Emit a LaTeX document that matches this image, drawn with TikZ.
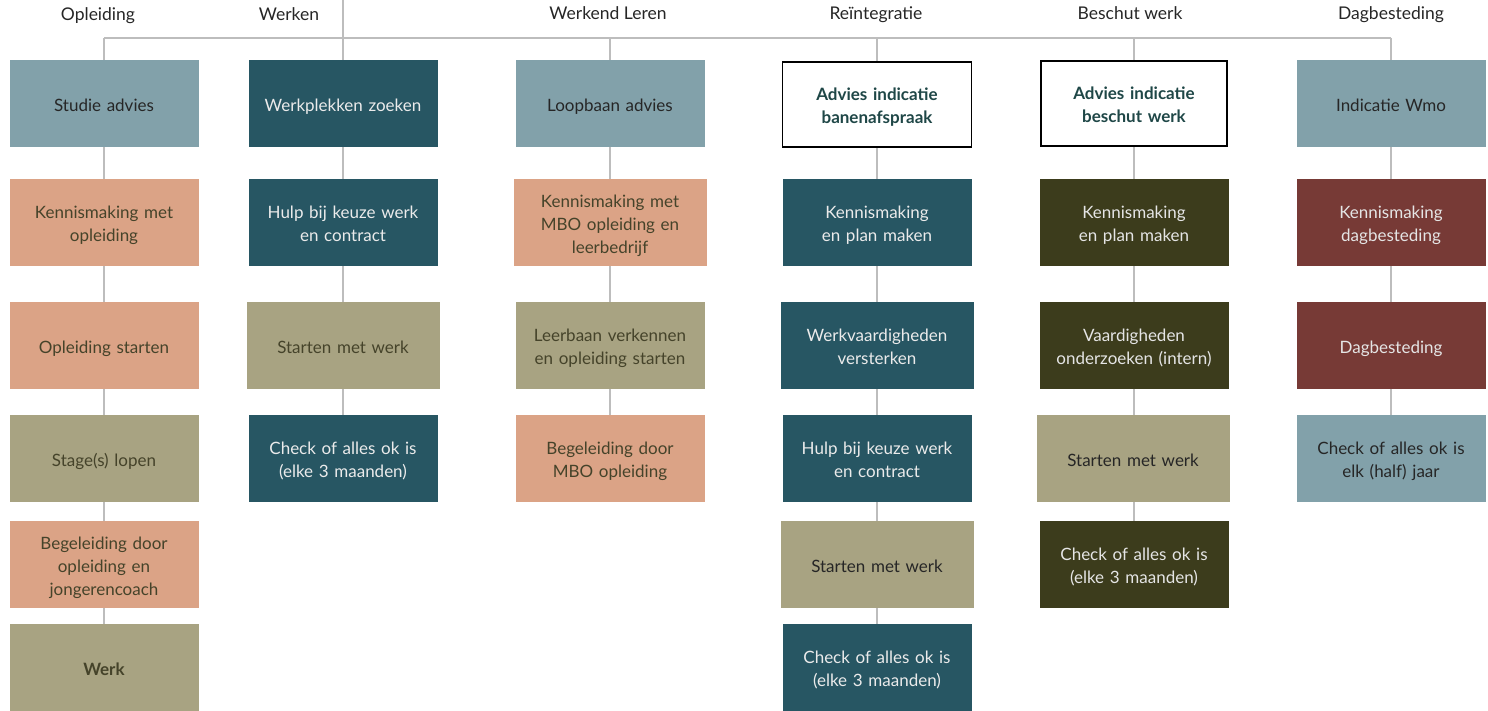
\documentclass[tikz,border=0pt]{standalone}
\usepackage{fontspec}
\setmainfont{Lato}
\usetikzlibrary{backgrounds}
\definecolor{grijsblauw}{HTML}{82A1AA}
\definecolor{petrol}{HTML}{275663}
\definecolor{zalm}{HTML}{DBA386}
\definecolor{kaki}{HTML}{A8A382}
\definecolor{olijf}{HTML}{3C3C1C}
\definecolor{wijnrood}{HTML}{773A36}
\definecolor{lijngrijs}{HTML}{BDBDBD}
\definecolor{bruintekst}{HTML}{45432A}
\definecolor{koptekst}{HTML}{1F4747}
\newcommand\strutboven{\rule{0pt}{21.5pt}}
\newcommand\strutonder{\rule[-6pt]{0pt}{6pt}}

\tikzset{
  blok/.style={minimum width=189pt, minimum height=87pt, inner sep=0pt, text width=185pt, align=center,
    font=\fontsize{17}{23}\selectfont, execute at begin node=\strutboven, execute at end node=\strutonder},
  lichtblauw/.style={blok, fill=grijsblauw, text=black!85},
  petrolblok/.style={blok, fill=petrol, text=white!92!black},
  zalmblok/.style={blok, fill=zalm, text=bruintekst},
  kakiblok/.style={blok, fill=kaki, text=bruintekst},
  olijfblok/.style={blok, fill=olijf, text=white!90!black},
  roodblok/.style={blok, fill=wijnrood, text=white!90!black},
  advies/.style={blok, fill=white, draw=black, line width=1.6pt, text=koptekst,
    minimum width=189pt, minimum height=85pt, font=\fontsize{17}{23}\selectfont\bfseries},
  kop/.style={anchor=base, font=\fontsize{17.5}{18}\selectfont, text=black!85},
  lijn/.style={draw=lijngrijs, line width=2pt},
}

\begin{document}
\begin{tikzpicture}[x=1pt, y=-1pt]
  \useasboundingbox (0,0) rectangle (1488,711);

  % kopjes
  \node[kop] (kOpl) at (98,21) {Opleiding};
  \node[kop] (kWrk) at (289,21) {Werken};
  \node[kop] (kWL) at (608,20) {Werkend Leren};
  \node[kop] (kRe) at (876,20) {Reïntegratie};
  \node[kop] (kBW) at (1130,20) {Beschut werk};
  \node[kop] (kDag) at (1391,20) {Dagbesteding};

  \coordinate (opleiding) at (104,38);
  \coordinate (werken) at (343,0);
  \coordinate (werkleren) at (610,38);
  \coordinate (reintegratie) at (877,38);
  \coordinate (beschut) at (1134,38);
  \coordinate (dagbesteding) at (1391,38);

  % Opleiding
  \node[lichtblauw] (opl1) at (104,103.5) {Studie advies};
  \node[zalmblok] (opl2) at (104,222.5) {Kennismaking met\\opleiding};
  \node[zalmblok] (opl3) at (104,345.5) {Opleiding starten};
  \node[kakiblok] (opl4) at (104,458.5) {Stage(s) lopen};
  \node[zalmblok] (opl5) at (104,564.5) {Begeleiding door\\opleiding en\\jongerencoach};
  \node[kakiblok, font=\fontsize{17}{23}\selectfont\bfseries] (opl6) at (104,667.5) {Werk};

  % Werken
  \node[petrolblok] (wrk1) at (343,103.5) {Werkplekken zoeken};
  \node[petrolblok] (wrk2) at (343,222.5) {Hulp bij keuze werk\\en contract};
  \node[kakiblok, minimum width=193pt] (wrk3) at (343,345.5) {Starten met werk};
  \node[petrolblok] (wrk4) at (343,458.5) {Check of alles ok is\\(elke 3 maanden)};

  % Werkend Leren
  \node[lichtblauw] (wl1) at (610,103.5) {Loopbaan advies};
  \node[zalmblok, minimum width=193pt] (wl2) at (610,222.5) {Kennismaking met\\MBO opleiding en\\leerbedrijf};
  \node[kakiblok] (wl3) at (610,345.5) {Leerbaan verkennen\\en opleiding starten};
  \node[zalmblok] (wl4) at (610,458.5) {Begeleiding door\\MBO opleiding};

  % Reintegratie
  \node[advies] (re1) at (877,104.5) {Advies indicatie\\banenafspraak};
  \node[petrolblok] (re2) at (877,222.5) {Kennismaking\\en plan maken};
  \node[petrolblok, minimum width=193pt] (re3) at (877,345.5) {Werkvaardigheden\\versterken};
  \node[petrolblok] (re4) at (877,458.5) {Hulp bij keuze werk\\en contract};
  \node[kakiblok, minimum width=193pt, text=black!85] (re5) at (877,564.5) {Starten met werk};
  \node[petrolblok] (re6) at (877,667.5) {Check of alles ok is\\(elke 3 maanden)};

  % Beschut werk
  \node[advies, minimum width=186pt] (bw1) at (1134,103.5) {Advies indicatie\\beschut werk};
  \node[olijfblok] (bw2) at (1134,222.5) {Kennismaking\\en plan maken};
  \node[olijfblok] (bw3) at (1134,345.5) {Vaardigheden\\onderzoeken (intern)};
  \node[kakiblok, minimum width=193pt, text=black!85] (bw4) at (1133,458.5) {Starten met werk};
  \node[olijfblok] (bw5) at (1134,564.5) {Check of alles ok is\\(elke 3 maanden)};

  % Dagbesteding
  \node[lichtblauw] (dag1) at (1391,103.5) {Indicatie Wmo};
  \node[roodblok] (dag2) at (1391,222.5) {Kennismaking\\dagbesteding};
  \node[roodblok] (dag3) at (1391,345.5) {Dagbesteding};
  \node[lichtblauw] (dag4) at (1391,458.5) {Check of alles ok is\\elk (half) jaar};

  % lijnen achter de blokken
  \begin{scope}[on background layer]
    \draw[lijn] (opleiding) -- (dagbesteding);
    \draw[lijn] (opleiding) -- (opl6);
    \draw[lijn] (werken) -- (wrk4);
    \draw[lijn] (werkleren) -- (wl4);
    \draw[lijn] (reintegratie) -- (re6);
    \draw[lijn] (beschut) -- (bw5);
    \draw[lijn] (dagbesteding) -- (dag4);
  \end{scope}
\end{tikzpicture}
\end{document}
